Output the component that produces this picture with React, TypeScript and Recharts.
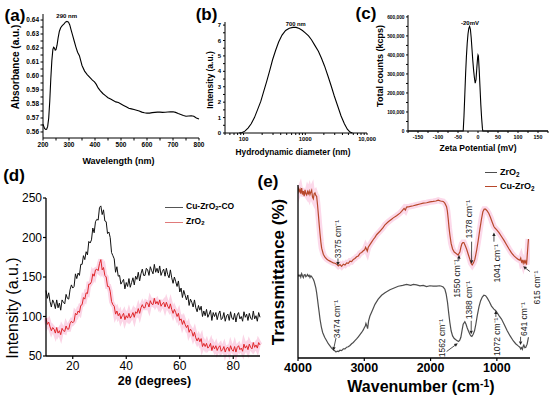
import React from 'react';
import { LineChart, Line, XAxis, YAxis, ReferenceDot, ReferenceLine, Legend } from 'recharts';

const FONT = '"Liberation Sans", Arial, Helvetica, sans-serif';

// ---------- (a) UV-Vis ----------
const UV_WAVELENGTH = [200,203,206,210,214,218,222,226,230,234,238,241,244,247,250,254,258,263,268,274,280,286,292,298,303,308,314,320,326,333,340,350,360,370,380,390,398,405,412,420,430,440,450,460,470,480,490,500,510,520,530,540,550,560,570,580,590,600,610,620,630,640,650,660,670,680,690,700,710,720,730,740,750,760,770,780,790,800];
const UV_ABSORBANCE = [0.5655,0.564,0.5625,0.5618,0.562,0.564,0.570,0.582,0.598,0.611,0.619,0.6205,0.620,0.6185,0.6188,0.622,0.627,0.632,0.6345,0.636,0.637,0.6385,0.639,0.6385,0.6365,0.633,0.629,0.625,0.621,0.617,0.6145,0.6075,0.6035,0.601,0.599,0.597,0.5958,0.594,0.5915,0.5895,0.5875,0.586,0.5845,0.5835,0.5825,0.5815,0.581,0.580,0.579,0.578,0.577,0.5765,0.576,0.5755,0.575,0.5742,0.5737,0.5735,0.5735,0.5738,0.574,0.5742,0.5742,0.574,0.5741,0.5743,0.5745,0.5744,0.574,0.5732,0.5725,0.5718,0.5712,0.5714,0.5716,0.5712,0.570,0.5692];
const UV_X_TICKS = [200,250,300,350,400,450,500,550,600,650,700,750,800];
const UV_Y_TICKS = [0.56,0.565,0.57,0.575,0.58,0.585,0.59,0.595,0.6,0.605,0.61,0.615,0.62,0.625,0.63,0.635,0.64];
const UV_PEAK = { x: 291, y: 0.6429, text: '290 nm' };

// ---------- (b) DLS ----------
const DLS_DIAMETER = [85,95,105,118,133,150,168,190,212,237,265,295,330,370,420,480,550,630,710,800,900,1000,1130,1260,1420,1630,1830,2050,2330,2630,2950,3350,3800,4300,4800,5300,5800];
const DLS_INTENSITY = [0,0.03,0.12,0.32,0.6,1.0,1.5,2.05,2.7,3.35,4.05,4.75,5.35,5.9,6.35,6.65,6.8,6.85,6.85,6.78,6.65,6.5,6.3,6.05,5.7,5.3,4.85,4.35,3.7,3.05,2.4,1.75,1.1,0.6,0.25,0.06,0];
const DLS_X_TICKS = [50,60,70,80,90,100,200,300,400,500,600,700,800,900,1000,2000,3000,4000,5000,6000,7000,8000,9000,10000];
const DLS_X_LABELS: Record<number, string> = { 100: '100', 1000: '1000', 10000: '10,000' };
const DLS_Y_TICKS = [0,0.5,1,1.5,2,2.5,3,3.5,4,4.5,5,5.5,6,6.5,7];
const DLS_PEAK = { x: 700, y: 7.08, text: '700 nm' };

// ---------- (c) Zeta potential ----------
const ZETA_MV = [-175,-40,-37,-35,-33,-31,-29,-27,-25,-23,-21,-19,-17,-15,-13,-11,-9,-7,-5,-3,-1,0,1,3,5,7,9,11,12,175];
const ZETA_COUNTS = [0,0,0,80000,190000,300000,390000,460000,510000,540000,550000,535000,490000,430000,370000,320000,280000,252000,270000,330000,385000,400000,395000,320000,230000,140000,70000,15000,0,0];
const ZETA_X_TICKS = [-175,-150,-125,-100,-75,-50,-25,0,25,50,75,100,125,150,175];
const ZETA_Y_TICKS = [0,50000,100000,150000,200000,250000,300000,350000,400000,450000,500000,550000,600000];
const ZETA_PEAK = { x: -20, y: 570000, text: '-20mV' };

// ---------- (d) XRD ----------
const XRD_START = 10;
const XRD_STEP = 0.5;
const XRD_CU_ZRO2_CO = [
  133,123,130,119,112,121,117,110,121,111,
  117,108,121,118,116,128,123,122,134,140,
  136,138,154,148,155,152,166,166,177,172,
  182,178,195,193,197,212,206,220,223,222,
  238,240,229,235,221,220,205,207,200,181,
  177,173,156,163,151,152,141,144,147,135,
  143,138,148,137,143,149,140,151,147,156,
  145,154,160,152,152,161,159,152,163,158,
  154,166,156,161,155,164,152,157,160,151,
  161,153,149,159,149,142,150,144,138,145,
  131,136,124,133,127,121,127,114,122,118,
  112,121,111,106,114,108,113,100,107,101,
  109,99,103,108,95,105,100,105,96,103,
  107,96,98,105,94,101,103,95,106,98,
  96,104,93,102,105,97,100,94,106,99,
  103,95,104,98,96,107,97,101,94,105,
  99,
];
const XRD_ZRO2 = [
  98,90,93,87,82,86,84,79,86,79,
  82,77,85,82,81,88,84,84,91,94,
  92,94,104,102,107,105,114,115,124,122,
  130,129,141,141,144,154,151,159,160,158,
  167,172,159,162,152,150,138,138,132,119,
  115,113,103,107,101,104,97,101,104,96,
  101,98,104,98,101,105,99,106,104,110,
  104,111,115,111,111,118,117,112,120,116,
  115,123,116,119,115,121,113,116,118,112,
  118,113,110,116,109,104,109,105,100,104,
  95,97,90,95,90,86,89,80,84,81,
  75,80,73,69,73,68,72,62,66,62,
  66,60,62,66,57,63,59,63,57,61,
  63,56,58,62,55,60,61,56,63,58,
  56,62,55,61,63,58,60,56,65,60,
  63,58,65,61,59,67,61,64,60,67,
  64,
];
const XRD_X_TICKS = [20,40,60,80];
const XRD_Y_TICKS = [50,100,150,200,250];
const XRD_LEGEND = [
  { name: 'Cu-ZrO2-CO', color: '#555555' },
  { name: 'ZrO2', color: '#e07a7a' },
];

// ---------- (e) FTIR ----------
const FTIR_CU_WN = [4000,3985,3970,3958,3945,3932,3920,3907,3894,3882,3869,3856,3844,3831,3819,3806,3794,3781,3769,3756,3744,3731,3719,3706,3693,3680,3668,3655,3643,3618,3593,3568,3543,3518,3493,3468,3442,3417,3392,3367,3342,3316,3291,3266,3241,3216,3191,3166,3141,3116,3090,3065,3040,3015,2995,2980,2968,2955,2940,2915,2890,2864,2839,2814,2764,2714,2688,2638,2588,2563,2513,2462,2437,2400,2380,2362,2320,2261,2211,2161,2111,2060,2010,1960,1920,1885,1850,1809,1785,1759,1747,1734,1722,1709,1690,1668,1643,1618,1600,1583,1570,1558,1543,1528,1513,1498,1478,1457,1432,1407,1390,1372,1352,1332,1306,1281,1256,1231,1211,1191,1170,1146,1121,1096,1070,1045,1025,1005,968,930,892,854,816,779,741,704,678,653,640,628,615,603,590,578,565,553,545,538,530,523];
const FTIR_CU_T = [3.96,3.84,3.90,3.80,3.93,3.78,3.86,3.74,3.89,3.80,3.77,3.85,3.80,3.86,3.78,3.84,3.88,3.72,3.68,3.80,3.82,3.76,3.74,3.55,3.32,3.08,2.88,2.68,2.54,2.40,2.33,2.29,2.26,2.24,2.22,2.20,2.19,2.17,2.13,2.16,2.12,2.17,2.15,2.20,2.19,2.24,2.23,2.28,2.30,2.34,2.36,2.42,2.44,2.48,2.50,2.56,2.52,2.47,2.56,2.62,2.68,2.74,2.79,2.85,2.93,3.02,3.08,3.15,3.21,3.24,3.29,3.35,3.39,3.46,3.42,3.49,3.50,3.52,3.54,3.56,3.58,3.59,3.61,3.62,3.63,3.65,3.63,3.62,3.58,3.50,3.40,3.22,3.02,2.85,2.65,2.52,2.45,2.42,2.40,2.38,2.42,2.45,2.56,2.64,2.67,2.67,2.60,2.52,2.40,2.28,2.19,2.15,2.20,2.28,2.48,2.72,2.98,3.22,3.38,3.44,3.44,3.40,3.34,3.25,3.14,3.04,3.00,2.97,2.90,2.81,2.72,2.62,2.52,2.43,2.36,2.31,2.28,2.26,2.31,2.22,2.25,2.19,2.27,2.20,2.24,2.16,2.30,2.45,2.62,2.75];
const FTIR_ZR_WN = [4000,3985,3970,3958,3945,3932,3920,3907,3894,3882,3869,3856,3844,3831,3819,3806,3794,3781,3769,3756,3744,3731,3719,3706,3693,3680,3668,3648,3628,3598,3568,3543,3518,3493,3467,3447,3427,3407,3387,3367,3342,3316,3291,3266,3241,3216,3191,3166,3141,3116,3090,3065,3040,3015,3000,2985,2975,2965,2950,2935,2915,2890,2864,2839,2790,2739,2688,2613,2550,2487,2420,2362,2300,2260,2211,2160,2110,2060,2010,1960,1910,1860,1834,1810,1784,1765,1744,1725,1709,1690,1668,1643,1618,1598,1578,1560,1543,1525,1508,1483,1465,1448,1427,1407,1390,1377,1357,1337,1317,1297,1270,1246,1220,1196,1170,1146,1113,1081,1045,1020,1005,968,930,887,844,800,754,716,678,653,640,628,615,603,593,578,563,553,543,533,523];
const FTIR_ZR_T = [1.93,1.89,1.92,1.87,1.95,1.90,1.86,1.92,1.93,1.88,1.90,1.93,1.89,1.91,1.86,1.90,1.88,1.85,1.82,1.77,1.70,1.62,1.51,1.36,1.20,1.05,0.90,0.72,0.59,0.48,0.40,0.33,0.28,0.23,0.19,0.17,0.14,0.16,0.15,0.18,0.17,0.21,0.21,0.25,0.26,0.29,0.33,0.36,0.40,0.44,0.49,0.54,0.59,0.65,0.70,0.74,0.80,0.76,0.68,0.86,0.97,1.06,1.15,1.24,1.36,1.45,1.51,1.58,1.62,1.66,1.68,1.70,1.68,1.70,1.69,1.67,1.68,1.65,1.67,1.66,1.66,1.67,1.66,1.64,1.59,1.48,1.28,1.02,0.82,0.63,0.51,0.45,0.42,0.40,0.38,0.41,0.48,0.64,0.78,0.84,0.78,0.70,0.62,0.55,0.51,0.50,0.55,0.63,0.78,0.97,1.18,1.32,1.41,1.45,1.44,1.39,1.30,1.20,1.13,1.10,1.07,0.98,0.90,0.77,0.63,0.51,0.40,0.33,0.28,0.25,0.21,0.24,0.20,0.27,0.30,0.24,0.25,0.29,0.32,0.40,0.48];
const FTIR_X_TICKS = [4000,3000,2000,1000];
const FTIR_Y_TICKS = [0,1,2,3,4];
const FTIR_LEGEND = [
  { name: 'ZrO2', color: '#4d4d4d' },
  { name: 'Cu-ZrO2', color: '#b8482b' },
];
const FTIR_NOTES = [
  { text: '3375 cm⁻¹', wn: 3397, t: 2.75, from: [3397, 2.30], to: [3397, 2.14] },
  { text: '3474 cm⁻¹', wn: 3417, t: 0.90, from: [3427, 0.46], to: [3468, 0.17] },
  { text: '1550 cm⁻¹', wn: 1598, t: 1.84, from: [1575, 2.24], to: [1570, 2.38] },
  { text: '1378 cm⁻¹', wn: 1421, t: 3.21, from: [1381, 2.69], to: [1381, 2.18] },
  { text: '1041 cm⁻¹', wn: 995, t: 2.19, from: [1044, 2.69], to: [1044, 2.90] },
  { text: '615 cm⁻¹', wn: 401, t: 1.63, from: [502, 2.0], to: [603, 2.12] },
  { text: '1562 cm⁻¹', wn: 1833, t: 0.46, from: [1758, 0.15], to: [1590, 0.34] },
  { text: '1388 cm⁻¹', wn: 1416, t: 1.34, from: [1387, 0.86], to: [1387, 0.55] },
  { text: '1072 cm⁻¹', wn: 995, t: 0.49, from: [1015, 0.95], to: [1015, 1.10] },
  { text: '641 cm⁻¹', wn: 592, t: 0.90, from: [642, 0.49], to: [642, 0.30] },
];

// ---------- tables built from the arrays ----------
const uvRows = UV_WAVELENGTH.map((wl, i) => ({ wl, abs: UV_ABSORBANCE[i] }));
const dlsRows = DLS_DIAMETER.map((d, i) => ({ d, v: DLS_INTENSITY[i] }));
const zetaRows = ZETA_MV.map((mv, i) => ({ mv, c: ZETA_COUNTS[i] }));
const xrdRows = XRD_CU_ZRO2_CO.map((v, i) => ({ angle: XRD_START + i * XRD_STEP, cu: v, zr: XRD_ZRO2[i] }));
const ftirCuRows = FTIR_CU_WN.map((wn, i) => ({ wn, t: FTIR_CU_T[i] }));
const ftirZrRows = FTIR_ZR_WN.map((wn, i) => ({ wn, t: FTIR_ZR_T[i] }));

// ---------- helpers ----------
const chem = (name: string) =>
  name.split(/(\d)/).map((part, i) =>
    /\d/.test(part) ? <sub key={i} style={{ fontSize: '0.7em', verticalAlign: '-0.25em' }}>{part}</sub> : <span key={i}>{part}</span>
  );

const tickStyle = (size: number, bold: boolean) => ({ fontSize: size, fontWeight: bold ? 700 : 400, fill: '#000', fontFamily: FONT });

const textShape = (text: string, size: number, rotate: boolean, bold = false, color = '#222') => (p: any) => {
  const cx = p.cx, cy = p.cy;
  return (
    <text x={cx} y={cy} textAnchor="middle" dominantBaseline="central" fontSize={size} fontWeight={bold ? 700 : 400}
      fontFamily={FONT} fill={color} transform={rotate ? `rotate(-90 ${cx} ${cy})` : undefined}>{text}</text>
  );
};

const arrowShape = (p: any) => {
  const { x1, y1, x2, y2 } = p;
  const ang = Math.atan2(y2 - y1, x2 - x1);
  const L = 3.5, W = 1.7;
  const bx = x2 - L * Math.cos(ang), by = y2 - L * Math.sin(ang);
  const px = -Math.sin(ang) * W, py = Math.cos(ang) * W;
  return (
    <g>
      <line x1={x1} y1={y1} x2={bx} y2={by} stroke="#222" strokeWidth={0.8} />
      <polygon points={`${x2},${y2} ${bx + px},${by + py} ${bx - px},${by - py}`} fill="#222" />
    </g>
  );
};

const Txt = ({ x, y, size, bold = true, rot = 0, children }: any) => (
  <div style={{ position: 'absolute', left: x, top: y, transform: `translate(-50%,-50%) rotate(${rot}deg)`, fontSize: size,
    fontWeight: bold ? 700 : 400, whiteSpace: 'nowrap', lineHeight: 1, color: '#000', fontFamily: FONT }}>{children}</div>
);

const legendContent = (items: { name: string; color: string }[], size: number, lineLen: number, rowH: number) => () => (
  <div style={{ fontFamily: FONT, fontSize: size, fontWeight: 700, color: '#000', lineHeight: 1 }}>
    {items.map((it) => (
      <div key={it.name} style={{ display: 'flex', alignItems: 'center', height: rowH }}>
        <span style={{ display: 'inline-block', width: lineLen, borderTop: `1.3px solid ${it.color}`, marginRight: 3 }} />
        <span>{chem(it.name)}</span>
      </div>
    ))}
  </div>
);

const addCommas = (v: number) => String(v).replace(/\B(?=(\d{3})+(?!\d))/g, ',');

const App = () => (
  <div style={{ position: 'absolute', left: 0, top: 0, width: 550, height: 399, background: '#fff', overflow: 'hidden', fontFamily: FONT }}>
    <style>{'.recharts-surface{overflow:visible}'}</style>

    {/* (a) */}
    <div style={{ position: 'absolute', left: 0, top: 0 }}>
      <LineChart width={210} height={170} data={uvRows} margin={{ top: 14, right: 11, left: 0, bottom: 0 }}>
        <XAxis dataKey="wl" type="number" domain={[200, 800]} ticks={UV_X_TICKS} interval={0} height={32}
          tickFormatter={(v: number) => (v % 100 === 0 ? String(v) : '')} tick={tickStyle(6.5, true)}
          tickSize={2.5} tickMargin={2} axisLine={{ stroke: '#000' }} tickLine={{ stroke: '#000' }} />
        <YAxis type="number" domain={[0.5557, 0.6443]} ticks={UV_Y_TICKS} interval={0} width={43} allowDataOverflow
          tickFormatter={(v: number) => (Math.round(v * 1000) % 10 === 0 ? v.toFixed(2) : '')} tick={tickStyle(6.5, true)}
          tickSize={2.5} tickMargin={1.5} axisLine={{ stroke: '#000' }} tickLine={{ stroke: '#000' }} />
        <Line dataKey="abs" stroke="#000" strokeWidth={1.1} dot={false} isAnimationActive={false} />
        <ReferenceDot x={UV_PEAK.x} y={UV_PEAK.y} r={0} ifOverflow="visible" shape={textShape(UV_PEAK.text, 6, false, true, '#000')} />
      </LineChart>
    </div>

    {/* (b) */}
    <div style={{ position: 'absolute', left: 180, top: 0 }}>
      <LineChart width={190} height={170} data={dlsRows} margin={{ top: 22, right: 3, left: 0, bottom: 0 }}>
        <XAxis dataKey="d" type="number" scale="log" domain={[50, 10000]} ticks={DLS_X_TICKS} interval={0} height={37} allowDataOverflow
          tickFormatter={(v: number) => DLS_X_LABELS[v] || ''} tick={tickStyle(5.8, true)}
          tickSize={2} tickMargin={2} axisLine={{ stroke: '#000' }} tickLine={{ stroke: '#000' }} />
        <YAxis type="number" domain={[0, 7.2]} ticks={DLS_Y_TICKS} interval={0} width={45}
          tickFormatter={(v: number) => (Number.isInteger(v) ? String(v) : '')} tick={tickStyle(6, true)}
          tickSize={2} tickMargin={2} axisLine={{ stroke: '#000' }} tickLine={{ stroke: '#000' }} />
        <Line dataKey="v" stroke="#000" strokeWidth={1.1} dot={false} isAnimationActive={false} />
        <ReferenceDot x={DLS_PEAK.x} y={DLS_PEAK.y} r={0} ifOverflow="visible" shape={textShape(DLS_PEAK.text, 5.8, false, true, '#000')} />
      </LineChart>
    </div>

    {/* (c) */}
    <div style={{ position: 'absolute', left: 360, top: 0 }}>
      <LineChart width={190} height={170} data={zetaRows} margin={{ top: 15, right: 2, left: 0, bottom: 0 }}>
        <XAxis dataKey="mv" type="number" domain={[-175, 175]} ticks={ZETA_X_TICKS} interval={0} height={39}
          tickFormatter={(v: number) => (v % 50 === 0 && Math.abs(v) <= 150 ? String(v) : '')} tick={tickStyle(5.3, true)}
          tickSize={2} tickMargin={2} axisLine={{ stroke: '#000' }} tickLine={{ stroke: '#000' }} />
        <YAxis type="number" domain={[0, 610000]} ticks={ZETA_Y_TICKS} interval={0} width={48}
          tickFormatter={(v: number) => (v % 100000 === 0 ? addCommas(v) : '')} tick={tickStyle(4.8, true)}
          tickSize={2} tickMargin={1.5} axisLine={{ stroke: '#000' }} tickLine={{ stroke: '#000' }} />
        <Line dataKey="c" stroke="#000" strokeWidth={1.1} dot={false} isAnimationActive={false} />
        <ReferenceDot x={ZETA_PEAK.x} y={ZETA_PEAK.y} r={0} ifOverflow="visible" shape={textShape(ZETA_PEAK.text, 6, false, true, '#000')} />
      </LineChart>
    </div>

    {/* (d) */}
    <div style={{ position: 'absolute', left: 0, top: 170 }}>
      <LineChart width={275} height={229} data={xrdRows} margin={{ top: 28, right: 15, left: 0, bottom: 0 }}>
        <XAxis dataKey="angle" type="number" domain={[10, 90]} ticks={XRD_X_TICKS} interval={0} height={43}
          tick={tickStyle(12, false)} tickSize={3} tickMargin={2}
          axisLine={{ stroke: '#000', strokeWidth: 1.3 }} tickLine={{ stroke: '#000', strokeWidth: 1.2 }} />
        <YAxis type="number" domain={[50, 250]} ticks={XRD_Y_TICKS} interval={0} width={46}
          tick={tickStyle(12, false)} tickSize={3} tickMargin={1}
          axisLine={{ stroke: '#000', strokeWidth: 1.3 }} tickLine={{ stroke: '#000', strokeWidth: 1.2 }} />
        <Line dataKey="zr" stroke="#fbd5e6" strokeWidth={5} dot={false} isAnimationActive={false} legendType="none" />
        <Line dataKey="zr" stroke="#e0262a" strokeWidth={1} dot={false} isAnimationActive={false} />
        <Line dataKey="cu" stroke="#111" strokeWidth={1} dot={false} isAnimationActive={false} />
        <Legend layout="horizontal" verticalAlign="middle" align="center"
          wrapperStyle={{ left: 165, top: 30, width: 'auto', height: 'auto' }}
          content={legendContent(XRD_LEGEND, 8.5, 18, 15)} />
      </LineChart>
    </div>

    {/* (e) */}
    <div style={{ position: 'absolute', left: 270, top: 170 }}>
      <LineChart width={280} height={229} margin={{ top: 15, right: 20, left: 0, bottom: 0 }}>
        <XAxis dataKey="wn" type="number" domain={[500, 4000]} reversed ticks={FTIR_X_TICKS} interval={0} height={41}
          tick={tickStyle(12.5, true)} tickSize={3} tickMargin={2} allowDataOverflow
          axisLine={{ stroke: '#000', strokeWidth: 1.3 }} tickLine={{ stroke: '#000', strokeWidth: 1.2 }} />
        <YAxis type="number" domain={[0, 4]} ticks={FTIR_Y_TICKS} interval={0} width={28} tick={false} tickSize={4}
          axisLine={{ stroke: '#000', strokeWidth: 1.3 }} tickLine={{ stroke: '#000', strokeWidth: 1.2 }} />
        <Line data={ftirCuRows} dataKey="t" stroke="#fcd9ea" strokeWidth={6} dot={false} isAnimationActive={false} legendType="none" />
        <Line data={ftirCuRows} dataKey="t" stroke="#b8482b" strokeWidth={1.2} dot={false} isAnimationActive={false} />
        <Line data={ftirZrRows} dataKey="t" stroke="#4d4d4d" strokeWidth={1.2} dot={false} isAnimationActive={false} />
        {FTIR_NOTES.map((n) => (
          <ReferenceLine key={'a' + n.text} ifOverflow="visible"
            segment={[{ x: n.from[0], y: n.from[1] }, { x: n.to[0], y: n.to[1] }]} shape={arrowShape} />
        ))}
        {FTIR_NOTES.map((n) => (
          <ReferenceDot key={'t' + n.text} x={n.wn} y={n.t} r={0} ifOverflow="visible" shape={textShape(n.text, 8.5, true)} />
        ))}
        <Legend layout="horizontal" verticalAlign="middle" align="center"
          wrapperStyle={{ left: 215, top: -4.5, width: 'auto', height: 'auto' }}
          content={legendContent(FTIR_LEGEND, 9, 12, 14)} />
      </LineChart>
    </div>

    {/* panel letters */}
    <Txt x={15} y={15} size={17}>(a)</Txt>
    <Txt x={206.5} y={13.5} size={17}>(b)</Txt>
    <Txt x={366} y={13} size={17}>(c)</Txt>
    <Txt x={14} y={175} size={17}>(d)</Txt>
    <Txt x={268} y={181} size={17}>(e)</Txt>

    {/* axis titles */}
    <Txt x={16} y={66.5} size={10} rot={-90}>Absorbance (a.u.)</Txt>
    <Txt x={118.5} y={161} size={9}>Wavelength (nm)</Txt>
    <Txt x={210} y={80} size={8.5} rot={-90}>Intensity (a.u.)</Txt>
    <Txt x={293} y={152} size={8.3}>Hydrodynamic diameter (nm)</Txt>
    <Txt x={380} y={66} size={9} rot={-90}>Total counts (kcps)</Txt>
    <Txt x={478} y={148} size={8.5}>Zeta Potential (mV)</Txt>
    <Txt x={13} y={307.5} size={16} bold={false} rot={-90}>Intensity (a.u.)</Txt>
    <Txt x={154.5} y={381} size={12.5}>2θ (degrees)</Txt>
    <Txt x={278} y={272} size={17} rot={-90}>Transmittance (%)</Txt>
    <Txt x={421} y={387} size={16}>Wavenumber (cm<sup style={{ fontSize: '0.65em', verticalAlign: '0.5em' }}>-1</sup>)</Txt>
  </div>
);

export default App;
